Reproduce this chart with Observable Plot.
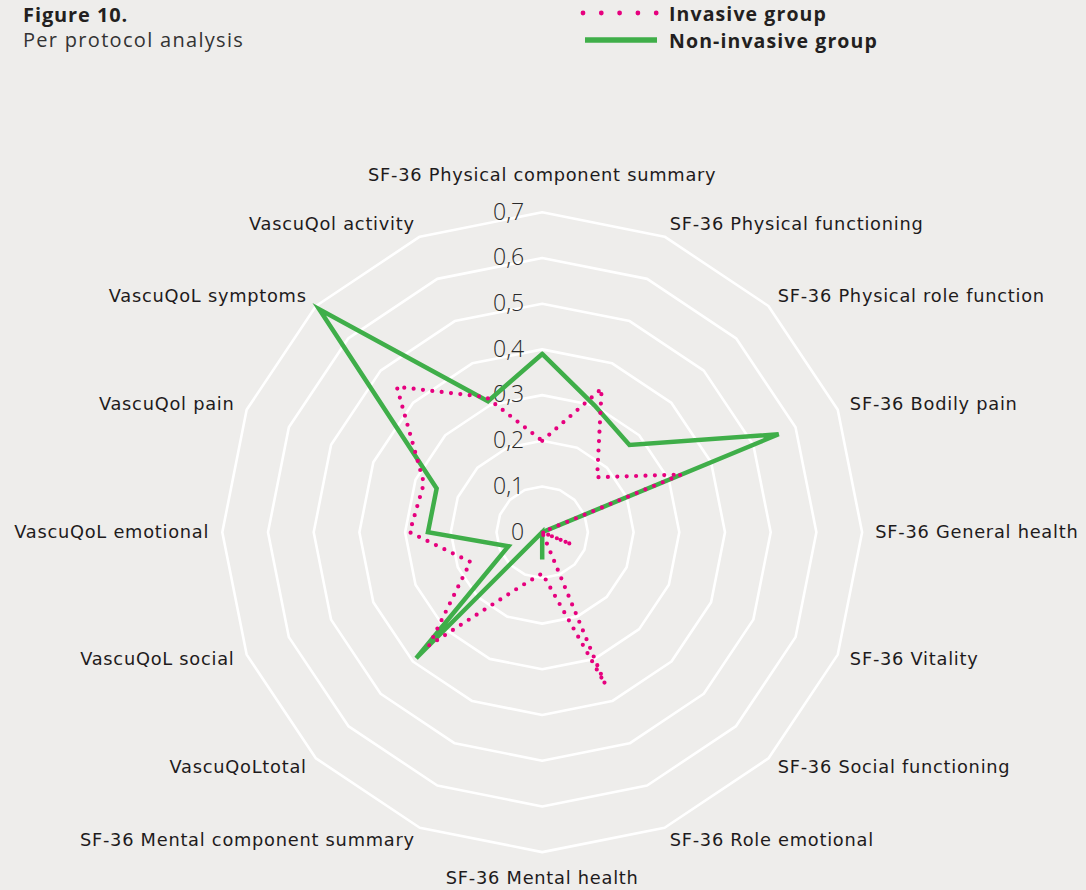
<!DOCTYPE html>
<html>
<head>
<meta charset="utf-8">
<script src="https://cdn.jsdelivr.net/npm/d3@7"></script>
<script src="https://cdn.jsdelivr.net/npm/@observablehq/plot@0.6"></script>
<style>
  html, body { margin: 0; padding: 0; background: #EEEDEB; }
  body { width: 1086px; height: 890px; overflow: hidden; font-family: "Open Sans", sans-serif; color: #231F20; }
  #header { position: relative; height: 60px; }
  .t1 { position: absolute; left: 23px; top: 1px; font-size: 20px; font-weight: 700; letter-spacing: 0.9px; }
  .t2 { position: absolute; left: 23px; top: 26px; font-size: 20px; font-weight: 400; letter-spacing: 1.3px; color: #333; }
  .lg { position: absolute; left: 669px; font-size: 19.5px; font-weight: 700; letter-spacing: 1.1px; }
  .sw { position: absolute; left: 578px; }
  #chart svg { display: block; }
  #chart g[font-family*="DejaVu"] text { letter-spacing: 0.75px; }
</style>
</head>
<body>
<div id="header">
  <div class="t1">Figure 10.</div>
  <div class="t2">Per protocol analysis</div>
  <svg class="sw" style="top:4px" width="90" height="18"><line x1="5" y1="9" x2="80" y2="9" stroke="#E6007E" stroke-width="4.8" stroke-linecap="round" stroke-dasharray="0 18.3"/></svg>
  <div class="lg" style="top:0px">Invasive group</div>
  <svg class="sw" style="top:31px" width="90" height="18"><line x1="7" y1="9" x2="79" y2="9" stroke="#3FAE49" stroke-width="5.5"/></svg>
  <div class="lg" style="top:27px">Non-invasive group</div>
</div>
<div id="chart"></div>
<script>
const categories = [
  "SF-36 Physical component summary",
  "SF-36 Physical functioning",
  "SF-36 Physical role function",
  "SF-36 Bodily pain",
  "SF-36 General health",
  "SF-36 Vitality",
  "SF-36 Social functioning",
  "SF-36 Role emotional",
  "SF-36 Mental health",
  "SF-36 Mental component summary",
  "VascuQoLtotal",
  "VascuQoL social",
  "VascuQoL emotional",
  "VascuQol pain",
  "VascuQoL symptoms",
  "VascuQol activity"
];
const invasive    = [0.20, 0.34, 0.17, 0.33, 0, 0.07, 0, 0.36, 0.09, 0.13, 0.35, 0.17, 0.29, 0.28, 0.45, 0.32];
const nonInvasive = [0.39, 0.30, 0.27, 0.56, 0, 0,    0, 0,    0.06, 0,    0.39, 0.08, 0.25, 0.25, 0.69, 0.31];
const ringValues = [0, 0.1, 0.2, 0.3, 0.4, 0.5, 0.6, 0.7];
const ringLabels = ["0", "0,1", "0,2", "0,3", "0,4", "0,5", "0,6", "0,7"];

const n = categories.length;
const ang = i => i * 2 * Math.PI / n;
const px = (v, i) => v * Math.sin(ang(i));
const py = (v, i) => v * Math.cos(ang(i));

function closedSeries(values, name) {
  const pts = values.map((v, i) => ({x: px(v, i), y: py(v, i), series: name}));
  pts.push({...pts[0]});
  return pts;
}
const rings = ringValues.filter(r => r > 0).flatMap(r => {
  const pts = d3.range(n).map(i => ({x: px(r, i), y: py(r, i), r}));
  pts.push({...pts[0]});
  return pts;
});
const labelR = 0.7287;
const labels = categories.map((c, i) => {
  const s = Math.sin(ang(i));
  return {name: c, x: px(labelR, i), y: py(labelR, i),
          side: Math.abs(s) < 1e-6 ? (Math.cos(ang(i)) > 0 ? "top" : "bottom") : (s > 0 ? "right" : "left")};
});
const ringText = ringValues.map((v, k) => ({x: 0, y: v, label: ringLabels[k]}));

const cx = 541.7, cy = 471.7, unit = 457;
const labelFont = {fontSize: 17.8, fontFamily: "'DejaVu Sans', sans-serif", fill: "#1E1B1C"};

const plot = Plot.plot({
  width: 1086,
  height: 830,
  style: {background: "transparent", fontFamily: "'Open Sans', sans-serif", overflow: "visible"},
  x: {domain: [-1, 1], range: [cx - unit, cx + unit], axis: null},
  y: {domain: [-1, 1], range: [cy + unit, cy - unit], axis: null},
  marks: [
    Plot.line(rings, {x: "x", y: "y", z: "r", stroke: "white", strokeWidth: 2.6, curve: "linear"}),
    Plot.text(ringText, {x: "x", y: "y", text: "label", textAnchor: "end", dx: -18, fontSize: 23, fill: "#2a2a2a", fontWeight: 300}),
    Plot.line(closedSeries(nonInvasive, "Non-invasive group"), {x: "x", y: "y", stroke: "#3FAE49", strokeWidth: 4.5, strokeLinejoin: "miter", strokeMiterlimit: 6}),
    Plot.line(closedSeries(invasive, "Invasive group"), {x: "x", y: "y", stroke: "#E6007E", strokeWidth: 4.2, strokeDasharray: "0 9.4", strokeLinecap: "round"}),
    Plot.text(labels.filter(d => d.side === "right"), {x: "x", y: "y", text: "name", textAnchor: "start", ...labelFont}),
    Plot.text(labels.filter(d => d.side === "left"), {x: "x", y: "y", text: "name", textAnchor: "end", ...labelFont}),
    Plot.text(labels.filter(d => d.side === "top"), {x: "x", y: "y", text: "name", textAnchor: "middle", dy: -24, ...labelFont}),
    Plot.text(labels.filter(d => d.side === "bottom"), {x: "x", y: "y", text: "name", textAnchor: "middle", dy: 13, ...labelFont})
  ]
});
document.getElementById("chart").appendChild(plot);
</script>
</body>
</html>
